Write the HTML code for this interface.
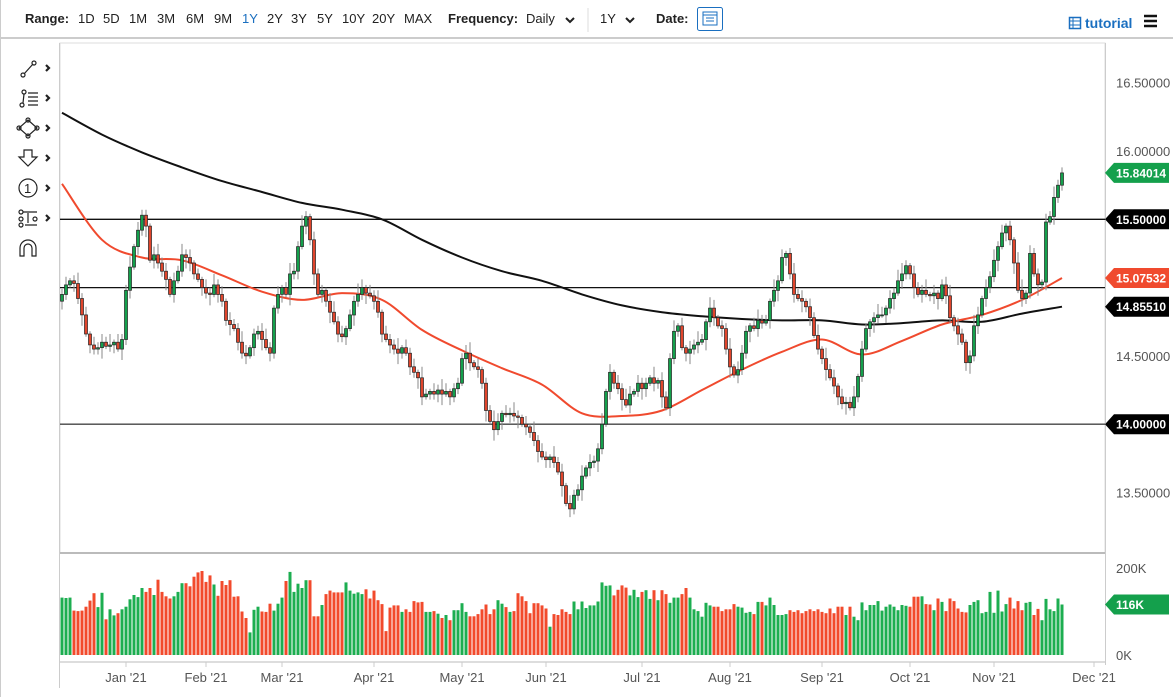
<!DOCTYPE html>
<html><head><meta charset="utf-8">
<style>
body{margin:0;width:1173px;height:697px;overflow:hidden;background:#fff;font-family:"Liberation Sans",sans-serif;}
svg{position:absolute;left:0;top:0}
.tb{font-size:13px;fill:#222}
</style></head>
<body>
<svg id="chart" width="1173" height="697">
  <line x1="0.5" y1="0" x2="0.5" y2="697" stroke="#ccc"/>
  <line x1="0" y1="38" x2="1173" y2="38" stroke="#ccc" stroke-width="2"/>
  <rect x="60" y="43" width="1045" height="510" fill="none" stroke="#ddd"/>
  <line x1="60" y1="553" x2="1105" y2="553" stroke="#bbb" stroke-width="2"/>
  <line x1="59.5" y1="43" x2="59.5" y2="688" stroke="#ccc"/>
  <line x1="1105.5" y1="43" x2="1105.5" y2="665" stroke="#ccc"/>
  <line x1="60" y1="662" x2="1105" y2="662" stroke="#ddd" stroke-width="2"/>
  <g id="grid"></g><g id="ma"></g><g id="candles"></g><g id="vol"></g><g id="axes"></g>

  <g>
    <text x="25" y="23" class="tb" font-weight="bold">Range:</text>
    <text x="78" y="23" class="tb">1D</text>
    <text x="103" y="23" class="tb">5D</text>
    <text x="129" y="23" class="tb">1M</text>
    <text x="157" y="23" class="tb">3M</text>
    <text x="186" y="23" class="tb">6M</text>
    <text x="214" y="23" class="tb">9M</text>
    <text x="242" y="23" class="tb" style="fill:#1a6fc0">1Y</text>
    <text x="267" y="23" class="tb">2Y</text>
    <text x="291" y="23" class="tb">3Y</text>
    <text x="317" y="23" class="tb">5Y</text>
    <text x="342" y="23" class="tb">10Y</text>
    <text x="372" y="23" class="tb">20Y</text>
    <text x="404" y="23" class="tb">MAX</text>
    <text x="448" y="23" class="tb" font-weight="bold">Frequency:</text>
    <text x="526" y="23" class="tb">Daily</text>
    <path d="M566 18 l4 4 l4 -4" fill="none" stroke="#222" stroke-width="2"/>
    <line x1="588" y1="8" x2="588" y2="32" stroke="#ddd"/>
    <text x="600" y="23" class="tb">1Y</text>
    <path d="M626 18 l4 4 l4 -4" fill="none" stroke="#222" stroke-width="2"/>
    <text x="656" y="23" class="tb" font-weight="bold">Date:</text>
    <g>
      <rect x="697.5" y="7.5" width="25" height="23" rx="2" fill="#fff" stroke="#1a6fc0"/>
      <rect x="703" y="12" width="14" height="13" fill="none" stroke="#1a6fc0"/>
      <path d="M703 15 h14 M706 18 h8 M706 21 h8" stroke="#1a6fc0"/>
    </g>
    <g>
      <rect x="1069.5" y="17.5" width="11" height="11" fill="none" stroke="#1a6fc0" stroke-width="1.5"/>
      <path d="M1069 21 h11 M1069 25 h11 M1073 17 v11" stroke="#1a6fc0"/>
      <text x="1085" y="28" font-size="14" font-weight="bold" fill="#1a6fc0">tutorial</text>
    </g>
    <path d="M1144 16 h13 M1144 21 h13 M1144 26 h13" stroke="#111" stroke-width="2.5"/>
  </g>

  <g fill="none" stroke="#222" stroke-width="1.2">
    <g><circle cx="23" cy="75" r="2"/><circle cx="34" cy="63" r="2"/><path d="M24 74 L33 64"/></g>
    <g><circle cx="22" cy="105" r="2"/><circle cx="24" cy="92" r="2"/><path d="M23 103 L24 94 M28 93h10 M28 97h10 M28 101h10 M28 105h10"/></g>
    <g><path d="M28 120 L37 128 L28 136 L19 128 Z"/><circle cx="28" cy="120" r="2"/><circle cx="37" cy="128" r="2"/><circle cx="28" cy="136" r="2"/><circle cx="19" cy="128" r="2"/></g>
    <g><path d="M24 150 h8 v7 h5 l-9 9 l-9 -9 h5 z"/></g>
    <g><circle cx="28" cy="188" r="9"/><text x="24" y="193" font-size="13" fill="#222" stroke="none">1</text></g>
    <g><circle cx="21" cy="212" r="2"/><circle cx="21" cy="219" r="2"/><circle cx="21" cy="225" r="2"/><circle cx="35" cy="219" r="2"/><path d="M23 212 h14 M28 213 v10 M25 225 h12"/></g>
    <g><path d="M20 256 v-8 a8 8 0 0 1 16 0 v8 h-4 v-8 a4 4 0 0 0 -8 0 v8 z"/></g>
    <g stroke-width="2.2"><path d="M46 65 l3 3 l-3 3 M46 95 l3 3 l-3 3 M46 125 l3 3 l-3 3 M46 155 l3 3 l-3 3 M46 185 l3 3 l-3 3 M46 215 l3 3 l-3 3"/></g>
  </g>
</svg>
<script>
const closes=[14.95,15.02,15.05,15.03,14.92,14.80,14.66,14.58,14.55,14.56,
14.60,14.57,14.58,14.60,14.55,14.62,14.98,15.15,15.30,15.42,
15.53,15.45,15.20,15.24,15.18,15.12,15.06,14.95,15.05,15.12,
15.24,15.22,15.18,15.10,15.06,15.00,14.96,14.95,15.02,14.95,
14.90,14.76,14.73,14.70,14.60,14.52,14.50,14.56,14.66,14.68,
14.62,14.56,14.52,14.85,14.95,15.00,14.95,15.10,15.12,15.30,
15.45,15.52,15.35,15.10,14.95,14.98,14.90,14.82,14.75,14.66,
14.64,14.70,14.80,14.90,14.95,15.00,14.96,14.94,14.90,14.82,
14.66,14.62,14.58,14.55,14.52,14.56,14.52,14.42,14.38,14.34,
14.20,14.22,14.24,14.22,14.25,14.22,14.24,14.20,14.26,14.30,
14.48,14.52,14.45,14.42,14.40,14.30,14.10,14.02,13.96,14.02,
14.08,14.07,14.08,14.06,14.05,14.00,13.98,13.94,13.88,13.80,
13.76,13.74,13.76,13.72,13.65,13.55,13.42,13.38,13.48,13.52,
13.62,13.68,13.72,13.73,13.82,14.00,14.24,14.38,14.30,14.26,
14.18,14.14,14.22,14.24,14.30,14.26,14.30,14.34,14.30,14.32,
14.20,14.12,14.48,14.68,14.72,14.56,14.52,14.55,14.58,14.60,
14.62,14.75,14.85,14.78,14.72,14.70,14.55,14.42,14.36,14.40,
14.52,14.68,14.72,14.70,14.76,14.74,14.76,14.90,14.98,15.05,
15.22,15.25,15.10,14.95,14.92,14.90,14.86,14.78,14.65,14.55,
14.48,14.40,14.34,14.28,14.20,14.15,14.16,14.12,14.20,14.35,
14.55,14.70,14.75,14.78,14.80,14.80,14.85,14.92,14.96,15.05,
15.10,15.16,15.10,15.00,14.95,14.98,14.95,14.94,14.96,14.92,
15.02,14.94,14.78,14.72,14.66,14.60,14.45,14.50,14.72,14.80,
14.92,15.00,15.08,15.20,15.30,15.40,15.45,15.35,15.18,14.98,
14.92,14.96,15.25,15.10,15.02,15.04,15.48,15.52,15.66,15.75,15.84];
const firstOpen=14.90;
const wickUp="2312423132324132241322134231324231213242313224312234213124324213221342312243132413224132314213243122234131224313242131423214231322413224131324313221413224131324214312241332134221423124231324142313224132124313244213224131234132124313242312144132213242";
const wickDn="3213241322412314231324132241312432132413224132313241322314231324132413231422413231324213243122341322143132414231324132241332141322413242132241312431324132213423142313241322413213241323142312241332413221342132413224131234132241342313224132413221423132";
const volumes=[132,131,132,102,101,102,111,125,142,110,143,82,105,91,96,105,111,128,138,133,
154,145,154,138,173,145,135,130,135,145,165,165,158,180,190,193,168,183,162,136,
170,161,172,134,135,100,85,52,104,111,100,99,118,102,118,132,170,191,145,164,
154,172,172,89,89,115,140,148,144,144,144,167,148,141,144,140,151,130,148,126,
117,55,109,114,114,99,105,99,124,121,122,99,99,101,95,85,92,80,103,103,
119,99,89,89,94,105,116,94,105,126,118,110,99,101,142,135,124,96,119,119,
114,107,65,94,92,105,99,94,123,105,123,108,114,114,123,167,159,160,137,150,
160,155,137,150,133,145,149,129,149,126,149,140,120,132,132,140,154,132,105,101,
88,120,114,111,111,101,105,105,117,111,109,97,99,94,122,122,114,132,115,92,
92,94,103,99,103,96,101,105,101,105,99,96,107,96,111,111,92,111,88,80,
121,103,115,115,124,102,111,116,111,103,115,113,111,134,134,135,117,116,103,130,
122,101,130,124,107,99,98,115,122,126,96,99,145,97,148,100,117,132,107,124,
103,120,122,92,106,80,129,105,101,130,116];
const maIdx=[0,10,20,30,40,50,60,70,80,90,100,110,120,130,140,150,160,170,180,190,200,210,220,230,240,250];
const ma200=[16.28,16.12,15.99,15.88,15.78,15.70,15.62,15.57,15.50,15.35,15.22,15.12,15.05,14.95,14.87,14.82,14.79,14.77,14.76,14.76,14.73,14.74,14.76,14.75,14.81,14.86];
const ma50=[15.76,15.35,15.22,15.20,15.09,14.97,14.91,14.96,14.91,14.69,14.54,14.41,14.29,14.08,14.06,14.10,14.25,14.40,14.53,14.62,14.51,14.61,14.73,14.80,14.91,15.07];
const priceTicks=[16.5,16.0,14.5,13.5];
const hLevels=[15.5,15.0,14.0];
const monthLabels=["Jan '21","Feb '21","Mar '21","Apr '21","May '21","Jun '21","Jul '21","Aug '21","Sep '21","Oct '21","Nov '21","Dec '21"];
const monthBarIdx=[16,36,55,78,100,121,145,167,190,212,233,258];
const volTicks=[[200,"200K"],[0,"0K"]];

const NS="http://www.w3.org/2000/svg";
const X=i=>62+i*4.0;
const Y=p=>151+(16-p)*136.6;
const VY=v=>655-v*0.435;
function mk(tag,attrs,parent){const e=document.createElementNS(NS,tag);for(const k in attrs)e.setAttribute(k,attrs[k]);parent.appendChild(e);return e;}
const gGrid=document.getElementById('grid'),gMa=document.getElementById('ma'),gC=document.getElementById('candles'),gV=document.getElementById('vol'),gA=document.getElementById('axes');

hLevels.forEach(p=>{
  const l=mk('line',{x1:60,x2:1105,y1:Y(p).toFixed(1),y2:Y(p).toFixed(1),stroke:p===14?'#444':'#111','stroke-width':1.3},gGrid);
  
  
});

const dirs=[];
closes.forEach((c,i)=>{
  const o=i===0?firstOpen:closes[i-1];
  const up=(+(wickUp[i]||2))*0.02, dn=(+(wickDn[i]||2))*0.02;
  const hi=Math.max(o,c)+up, lo=Math.min(o,c)-dn;
  const x=X(i);
  dirs.push(c>=o);
  const w=mk('line',{x1:x,x2:x,y1:Y(hi).toFixed(1),y2:Y(lo).toFixed(1),stroke:'#888','stroke-width':1},gC);
  
  
  const top=Y(Math.max(o,c)),bot=Y(Math.min(o,c));
  const r=mk('rect',{x:(x-1.5).toFixed(1),y:top.toFixed(1),width:3,height:Math.max(1,bot-top).toFixed(1),fill:c>=o?'#14a04c':'#e0452c',stroke:'#222','stroke-width':0.7},gC);
  
  
});

function smoothPath(arr){
  const pts=arr.map((v,k)=>[X(maIdx[k]),Y(v)]);
  let d='M'+pts[0][0]+' '+pts[0][1].toFixed(1);
  for(let k=0;k<pts.length-1;k++){
    const p0=pts[k-1]||pts[k],p1=pts[k],p2=pts[k+1],p3=pts[k+2]||p2;
    const c1=[p1[0]+(p2[0]-p0[0])/6,p1[1]+(p2[1]-p0[1])/6],c2=[p2[0]-(p3[0]-p1[0])/6,p2[1]-(p3[1]-p1[1])/6];
    d+=` C${c1[0].toFixed(1)} ${c1[1].toFixed(1)} ${c2[0].toFixed(1)} ${c2[1].toFixed(1)} ${p2[0].toFixed(1)} ${p2[1].toFixed(1)}`;
  }
  return d;
}
const m200=mk('path',{d:smoothPath(ma200),fill:'none',stroke:'#111','stroke-width':2},gMa);


const m50=mk('path',{d:smoothPath(ma50),fill:'none',stroke:'#f04a2e','stroke-width':2},gMa);



volumes.forEach((v,i)=>{
  if(i>=closes.length)return;
  const r=mk('rect',{x:(X(i)-1.5).toFixed(1),y:VY(v).toFixed(1),width:3,height:(655-VY(v)).toFixed(1),fill:dirs[i]?'#1cae50':'#f24a2c'},gV);
  
  
});

priceTicks.forEach(p=>{
  const t=mk('text',{x:1116,y:(Y(p)+5).toFixed(1),'font-size':13,fill:'#555'},gA);
  t.textContent=p.toFixed(5);
  
  
});
volTicks.forEach(([v,s])=>{
  const t=mk('text',{x:1116,y:(VY(v)+5).toFixed(1),'font-size':13,fill:'#555'},gA);
  t.textContent=s;
  
  
});
function tag(y,label,color,name){
  const g=mk('g',{},gA);
  
  
  mk('path',{d:`M1105 ${y} l9 -10 h55 v20 h-55 z`,fill:color},g);
  const t=mk('text',{x:1116,y:y+4.5,'font-size':12,'font-weight':'bold',fill:'#fff'},g);
  t.textContent=label;
}
tag(Y(14.0),'14.00000','#000','level-tag-14');
tag(Y(ma200[ma200.length-1]),'14.85510','#000','ma-200-tag');
tag(Y(ma50[ma50.length-1]),'15.07532','#f04a2e','ma-50-tag');
tag(Y(15.5),'15.50000','#000','level-tag-15-5');
tag(Y(closes[closes.length-1]),'15.84014','#14a04c','last-price-tag');
tag(VY(volumes[volumes.length-1]),'116K','#14a04c','last-volume-tag');

monthLabels.forEach((m,k)=>{
  const x=X(monthBarIdx[k]);
  const l=mk('line',{x1:x,x2:x,y1:662,y2:667,stroke:'#ccc'},gA);
  
  
  const t=mk('text',{x:x,y:682,'font-size':13,fill:'#555','text-anchor':'middle'},gA);
  t.textContent=m;
  
  
});
</script>
</body></html>
